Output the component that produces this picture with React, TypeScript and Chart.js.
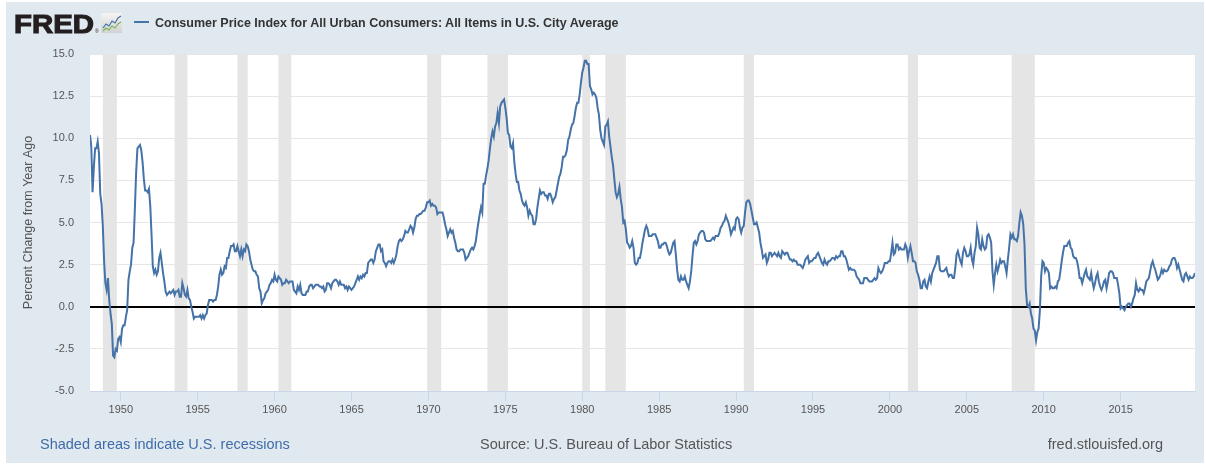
import React, { useEffect, useRef } from "react";
import { Chart, registerables } from "chart.js";

Chart.register(...registerables);

// ---- Data: CPI-U, percent change from year ago, monthly from Jan 1948 ----
const START_YEAR = 1948;

const cpi1948to1949 = [
  10.2, 9.5, 6.8, 8.3, 9.4, 9.4, 9.8, 9.1, 6.7, 6.1, 4.8, 2.7,
  1.4, 1.0, 1.7, 0.4, -0.4, -1.0, -2.9, -3.0, -2.5, -2.6, -1.9, -1.8,
];

const cpi1950s = [
  -2.1, -1.3, -1.1, -1.1, -0.6, -0.2, 1.6, 2.1, 2.5, 3.5, 3.8, 5.8,
  8.0, 9.4, 9.5, 9.6, 9.3, 8.6, 7.6, 6.9, 6.9, 6.8, 7.0, 6.0,
  4.3, 2.4, 2.0, 2.2, 1.9, 2.1, 2.9, 3.2, 2.6, 2.0, 1.5, 0.9,
  0.7, 0.8, 0.9, 0.8, 0.9, 1.0, 0.7, 0.9, 0.9, 1.0, 0.6, 0.6,
  1.4, 1.1, 0.7, 0.6, 1.0, 0.5, 0.4, 0.0, -0.3, -0.7, -0.6, -0.6,
  -0.6, -0.6, -0.5, -0.7, -0.5, -0.7, -0.5, -0.4, 0.1, 0.4, 0.4, 0.4,
  0.3, 0.4, 0.4, 0.7, 1.2, 1.9, 2.2, 1.9, 2.0, 2.4, 2.3, 2.9,
  2.9, 3.3, 3.6, 3.6, 3.7, 3.3, 3.3, 3.6, 3.3, 3.0, 3.4, 3.0,
  3.4, 3.3, 3.7, 3.6, 3.3, 2.8, 2.5, 2.2, 2.1, 2.1, 1.9, 1.8,
  1.1, 0.9, 0.2, 0.4, 0.5, 0.8, 0.9, 1.0, 1.3, 1.4, 1.6, 1.5,
];

const cpi1960s = [
  1.9, 1.6, 1.5, 1.8, 1.7, 1.6, 1.3, 1.4, 1.4, 1.6, 1.5, 1.4,
  1.5, 1.5, 1.5, 1.0, 0.9, 0.8, 1.2, 1.0, 1.3, 0.8, 0.7, 0.7,
  0.7, 0.9, 0.9, 1.2, 1.3, 1.3, 1.1, 1.2, 1.3, 1.3, 1.3, 1.2,
  1.2, 1.1, 1.2, 0.9, 1.0, 1.4, 1.4, 1.3, 1.1, 1.4, 1.5, 1.6,
  1.6, 1.5, 1.3, 1.5, 1.3, 1.3, 1.3, 1.1, 1.2, 1.0, 1.2, 1.1,
  1.0, 1.1, 1.2, 1.4, 1.6, 1.8, 1.6, 1.8, 1.7, 1.9, 1.8, 2.0,
  2.0, 2.6, 2.7, 2.8, 2.8, 2.6, 2.8, 3.3, 3.5, 3.7, 3.7, 3.3,
  3.4, 2.7, 2.6, 2.4, 2.6, 2.7, 2.7, 2.6, 2.8, 2.6, 2.8, 3.1,
  3.6, 3.9, 4.0, 3.9, 4.0, 4.2, 4.5, 4.4, 4.4, 4.6, 4.8, 4.7,
  4.4, 4.7, 5.2, 5.4, 5.4, 5.5, 5.5, 5.6, 5.7, 5.7, 5.9, 6.2,
];

const cpi1970s = [
  6.2, 6.3, 6.0, 6.1, 6.0, 6.0, 5.9, 5.5, 5.6, 5.6, 5.6, 5.6,
  5.3, 4.9, 4.6, 4.2, 4.4, 4.6, 4.4, 4.5, 4.1, 3.8, 3.4, 3.3,
  3.3, 3.4, 3.4, 3.4, 3.2, 2.8, 2.9, 3.0, 3.2, 3.4, 3.5, 3.4,
  3.6, 3.9, 4.5, 5.0, 5.5, 5.9, 5.6, 7.3, 7.3, 7.8, 8.2, 8.7,
  9.4, 10.0, 10.4, 10.1, 10.7, 10.9, 11.5, 10.9, 11.9, 12.1, 12.2, 12.3,
  11.8, 11.2, 10.3, 10.2, 9.5, 9.4, 9.7, 8.6, 7.9, 7.4, 7.4, 6.9,
  6.7, 6.3, 6.1, 6.0, 6.2, 5.9, 5.4, 5.7, 5.5, 5.4, 4.9, 4.9,
  5.2, 5.9, 6.4, 6.9, 6.7, 6.8, 6.8, 6.6, 6.6, 6.4, 6.7, 6.7,
  6.5, 6.2, 6.4, 6.5, 6.9, 7.3, 7.7, 7.9, 8.3, 8.9, 8.9, 9.0,
  9.3, 9.9, 10.1, 10.5, 10.8, 10.9, 11.3, 11.8, 12.1, 12.1, 12.6, 13.3,
];

const cpi1980s = [
  13.9, 14.2, 14.6, 14.6, 14.4, 14.4, 13.1, 12.9, 12.6, 12.7, 12.6, 12.4,
  11.8, 11.4, 10.5, 10.0, 9.8, 9.6, 10.7, 10.8, 11.0, 10.1, 9.5, 8.9,
  8.4, 7.6, 6.8, 6.5, 6.7, 7.1, 6.4, 5.9, 5.0, 5.1, 4.6, 3.8,
  3.7, 3.5, 3.6, 3.9, 3.5, 2.6, 2.5, 2.6, 2.9, 2.9, 3.3, 3.8,
  4.2, 4.6, 4.8, 4.6, 4.2, 4.2, 4.2, 4.3, 4.3, 4.3, 4.1, 3.9,
  3.5, 3.5, 3.7, 3.7, 3.8, 3.8, 3.6, 3.3, 3.1, 3.2, 3.5, 3.8,
  3.9, 3.1, 2.2, 1.6, 1.5, 1.8, 1.6, 1.6, 1.8, 1.5, 1.3, 1.1,
  1.5, 2.1, 3.0, 3.8, 3.9, 3.7, 3.9, 4.3, 4.4, 4.5, 4.5, 4.4,
  4.0, 3.9, 3.9, 3.9, 3.9, 4.0, 4.1, 4.0, 4.2, 4.2, 4.2, 4.4,
  4.7, 4.8, 5.0, 5.1, 5.4, 5.2, 5.0, 4.7, 4.3, 4.5, 4.7, 4.6,
];

const cpi1990s = [
  5.2, 5.3, 5.2, 4.7, 4.4, 4.7, 4.8, 5.6, 6.2, 6.3, 6.3, 6.1,
  5.7, 5.3, 4.9, 4.9, 5.0, 4.7, 4.4, 3.8, 3.4, 2.9, 3.0, 3.1,
  2.6, 2.8, 3.2, 3.2, 3.0, 3.1, 3.2, 3.1, 3.0, 3.2, 3.0, 2.9,
  3.3, 3.2, 3.1, 3.2, 3.2, 3.0, 2.8, 2.8, 2.7, 2.8, 2.7, 2.7,
  2.5, 2.5, 2.5, 2.4, 2.3, 2.5, 2.8, 2.9, 3.0, 2.6, 2.7, 2.7,
  2.8, 2.9, 2.9, 3.1, 3.2, 3.0, 2.8, 2.6, 2.5, 2.8, 2.6, 2.5,
  2.7, 2.7, 2.8, 2.9, 2.9, 2.8, 3.0, 2.9, 3.0, 3.0, 3.3, 3.3,
  3.0, 3.0, 2.8, 2.5, 2.2, 2.3, 2.2, 2.2, 2.2, 2.1, 1.8, 1.7,
  1.6, 1.4, 1.4, 1.4, 1.7, 1.7, 1.7, 1.6, 1.5, 1.5, 1.5, 1.6,
  1.7, 1.6, 1.7, 2.3, 2.1, 2.0, 2.1, 2.3, 2.6, 2.6, 2.6, 2.7,
];

const cpi2000s = [
  2.7, 3.2, 3.8, 3.1, 3.2, 3.7, 3.7, 3.4, 3.5, 3.4, 3.4, 3.4,
  3.7, 3.5, 2.9, 3.3, 3.6, 3.2, 2.7, 2.7, 2.6, 2.1, 1.9, 1.6,
  1.1, 1.1, 1.5, 1.6, 1.2, 1.1, 1.5, 1.8, 1.5, 2.0, 2.2, 2.4,
  2.6, 3.0, 3.0, 2.2, 2.1, 2.1, 2.1, 2.2, 2.3, 2.0, 1.8, 1.9,
  1.9, 1.7, 1.7, 2.3, 3.1, 3.3, 3.0, 2.7, 2.5, 3.2, 3.5, 3.3,
  3.0, 3.0, 3.1, 3.5, 2.8, 2.5, 3.2, 3.6, 4.7, 4.3, 3.5, 3.4,
  4.0, 3.6, 3.4, 3.5, 4.2, 4.3, 4.1, 3.8, 2.1, 1.3, 2.0, 2.5,
  2.1, 2.4, 2.8, 2.6, 2.7, 2.7, 2.4, 2.0, 2.8, 3.5, 4.3, 4.1,
  4.3, 4.0, 4.0, 3.9, 4.2, 5.0, 5.6, 5.4, 4.9, 3.7, 1.1, 0.1,
  0.0, 0.2, -0.4, -0.7, -1.3, -1.4, -2.0, -1.5, -1.3, -0.2, 1.8, 2.7,
];

const cpi2010s = [
  2.6, 2.1, 2.3, 2.2, 2.0, 1.1, 1.2, 1.1, 1.1, 1.2, 1.1, 1.5,
  1.6, 2.1, 2.7, 3.2, 3.6, 3.6, 3.6, 3.8, 3.9, 3.5, 3.4, 3.0,
  2.9, 2.9, 2.7, 2.3, 1.7, 1.7, 1.4, 1.7, 2.0, 2.2, 1.8, 1.7,
  1.6, 2.0, 1.5, 1.1, 1.4, 1.8, 2.0, 1.5, 1.2, 1.0, 1.2, 1.5,
  1.6, 1.1, 1.5, 2.0, 2.1, 2.1, 2.0, 1.7, 1.7, 1.7, 1.3, 0.8,
  -0.1, 0.0, -0.1, -0.2, 0.0, 0.1, 0.2, 0.2, 0.0, 0.2, 0.5, 0.7,
  1.4, 1.0, 0.9, 1.1, 1.0, 1.0, 0.8, 1.1, 1.5, 1.6, 1.7, 2.1,
  2.5, 2.7, 2.4, 2.2, 1.9, 1.6, 1.7, 1.9, 2.2, 2.0, 2.2, 2.1,
  2.1, 2.2, 2.4, 2.5, 2.8, 2.9, 2.9, 2.7, 2.3, 2.5, 2.2, 1.9,
  1.6, 1.5, 1.9, 2.0, 1.8, 1.6, 1.8, 1.7, 1.7, 1.8, 2.0,
];

const xTickYears = [1950, 1955, 1960, 1965, 1970, 1975, 1980, 1985, 1990, 1995, 2000, 2005, 2010, 2015];
const yMin = -5;
const yMax = 15;
const yStep = 2.5;

const recessionStarts = ["1948-11", "1953-07", "1957-08", "1960-04", "1969-12", "1973-11", "1980-01", "1981-07", "1990-07", "2001-03", "2007-12"];
const recessionEnds = ["1949-10", "1954-05", "1958-04", "1961-02", "1970-11", "1975-03", "1980-07", "1982-11", "1991-03", "2001-11", "2009-06"];

const seriesTitle = "Consumer Price Index for All Urban Consumers: All Items in U.S. City Average";
const yAxisTitle = "Percent Change from Year Ago";
const footLeft = "Shaded areas indicate U.S. recessions";
const footMid = "Source: U.S. Bureau of Labor Statistics";
const footRight = "fred.stlouisfed.org";

const toYear = (s: string) => {
  const [y, m] = s.split("-").map(Number);
  return y + (m - 1) / 12;
};

const FONT = '"Liberation Sans", Arial, sans-serif';

export default function App() {
  const canvasRef = useRef<HTMLCanvasElement | null>(null);

  useEffect(() => {
    const canvas = canvasRef.current;
    if (!canvas) return;
    const values = [
      ...cpi1948to1949, ...cpi1950s, ...cpi1960s, ...cpi1970s,
      ...cpi1980s, ...cpi1990s, ...cpi2000s, ...cpi2010s,
    ];
    const points = values.map((v, i) => ({ x: START_YEAR + i / 12, y: v }));
    const lastX = points[points.length - 1].x;

    const bandsPlugin = {
      id: "fredDecor",
      beforeDraw(chart: any) {
        const { ctx, chartArea: a } = chart;
        ctx.save();
        ctx.fillStyle = "#ffffff";
        ctx.fillRect(a.left, a.top, a.right - a.left, a.bottom - a.top);
        ctx.restore();
      },
      beforeDatasetsDraw(chart: any) {
        const { ctx, chartArea: a, scales } = chart;
        const xs = scales.x;
        const ys = scales.y;
        ctx.save();
        ctx.fillStyle = "#e5e5e5";
        recessionStarts.forEach((s, i) => {
          let x0 = xs.getPixelForValue(toYear(s));
          let x1 = xs.getPixelForValue(toYear(recessionEnds[i]));
          x0 = Math.max(x0, a.left);
          x1 = Math.min(x1, a.right);
          if (x1 > x0) ctx.fillRect(x0, a.top, x1 - x0, a.bottom - a.top);
        });
        const y0 = Math.round(ys.getPixelForValue(0));
        ctx.strokeStyle = "#000000";
        ctx.lineWidth = 2;
        ctx.beginPath();
        ctx.moveTo(a.left, y0);
        ctx.lineTo(a.right, y0);
        ctx.stroke();
        ctx.restore();
      },
    };

    const chart = new Chart(canvas, {
      type: "line",
      data: {
        datasets: [
          {
            label: seriesTitle,
            data: points,
            borderColor: "#4572a7",
            borderWidth: 2,
            pointRadius: 0,
            tension: 0,
            fill: false,
          },
        ],
      },
      options: {
        animation: false,
        responsive: false,
        devicePixelRatio: 1,
        layout: { padding: { top: 14, right: 9, left: 0, bottom: 0 } },
        plugins: {
          legend: { display: false },
          tooltip: { enabled: false },
        },
        scales: {
          x: {
            type: "linear",
            min: START_YEAR,
            max: lastX,
            afterFit: (s: any) => { s.height = 29; s.paddingLeft = 0; s.paddingRight = 0; },
            afterBuildTicks: (s: any) => { s.ticks = xTickYears.map((v) => ({ value: v })); },
            grid: { drawOnChartArea: false, drawTicks: true, tickLength: 10, tickColor: "#ccd6eb" },
            border: { display: true, color: "#ccd6eb", width: 1 },
            ticks: {
              autoSkip: false,
              maxRotation: 0,
              padding: 2,
              color: "#555555",
              font: { family: FONT, size: 11 },
              callback: (v: any) => String(v),
            },
          },
          y: {
            min: yMin,
            max: yMax,
            afterFit: (s: any) => { s.width = 84; s.paddingTop = 0; s.paddingBottom = 0; },
            grid: { drawTicks: false, color: "#e6e6e6", lineWidth: 1 },
            border: { display: false },
            ticks: {
              stepSize: yStep,
              padding: 16,
              color: "#555555",
              font: { family: FONT, size: 11 },
              callback: (v: any) => Number(v).toFixed(1),
            },
            title: {
              display: true,
              text: yAxisTitle,
              color: "#555555",
              font: { family: FONT, size: 12.5, weight: "normal" },
              padding: { top: 15, bottom: 0 },
            },
          },
        },
      },
      plugins: [bandsPlugin],
    } as any);

    return () => chart.destroy();
  }, []);

  return (
    <div style={{ position: "absolute", left: 0, top: 0, width: 1206, height: 464, background: "#ffffff", overflow: "hidden" }}>
      <div style={{ position: "absolute", left: 6, top: 2, width: 1198, height: 461, background: "#e1e9f0" }} />
      <canvas
        ref={canvasRef}
        width={1198}
        height={380}
        style={{ position: "absolute", left: 6, top: 40, width: 1198, height: 380 }}
      />
      <svg width={1206} height={464} style={{ position: "absolute", left: 0, top: 0, pointerEvents: "none" }}>
        <defs>
          <linearGradient id="iconbg" x1="0" y1="0" x2="0" y2="1">
            <stop offset="0" stopColor="#f4f4f4" />
            <stop offset="1" stopColor="#d2d2d2" />
          </linearGradient>
        </defs>
        <text x={14} y={33} fontFamily={FONT} fontWeight="bold" fontSize={26} fill="#231f20" stroke="#231f20" strokeWidth={1.1} textLength={80} lengthAdjust="spacingAndGlyphs">FRED</text>
        <text x={95} y={33} fontFamily={FONT} fontSize={5} fill="#231f20">®</text>
        <rect x={101} y={13} width={21} height={20} fill="url(#iconbg)" />
        <polyline points="103,28 106,24 109,26 112,21 115,23 118,18 121,16" fill="none" stroke="#4572a7" strokeWidth={1.2} />
        <polyline points="103,31 106,28 109,30 112,26 115,28 118,24 121,22" fill="none" stroke="#7ab55c" strokeWidth={1.2} />
        <line x1={134} y1={22} x2={149} y2={22} stroke="#4572a7" strokeWidth={2} />
        <text x={155} y={26.5} fontFamily={FONT} fontWeight="bold" fontSize={12.5} fill="#333333">{seriesTitle}</text>
        <text x={40} y={448.5} fontFamily={FONT} fontSize={14.5} fill="#3f6ca8">{footLeft}</text>
        <text x={480} y={448.5} fontFamily={FONT} fontSize={14.5} fill="#555555">{footMid}</text>
        <text x={1163} y={448.5} fontFamily={FONT} fontSize={14.5} fill="#555555" textAnchor="end">{footRight}</text>
      </svg>
    </div>
  );
}
